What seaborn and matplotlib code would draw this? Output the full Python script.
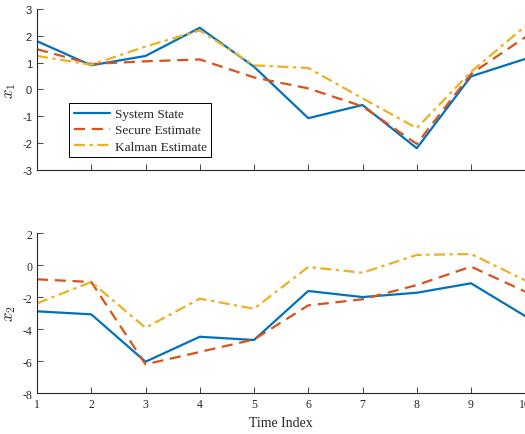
import numpy as np
import pandas as pd
import matplotlib
matplotlib.use('Agg')
import matplotlib.pyplot as plt
import seaborn as sns

sns.set_style('ticks')
plt.rcParams['font.family'] = ['Liberation Sans', 'DejaVu Sans']
plt.rcParams['mathtext.fontset'] = 'cm'
plt.rcParams['axes.unicode_minus'] = False

# data
t = [1, 2, 3, 4, 5, 6, 7, 8, 9, 10]
x1_state = [1.8, 0.9, 1.25, 2.3, 0.85, -1.07, -0.58, -2.19, 0.49, 1.14]
x1_secure = [1.5, 0.95, 1.05, 1.12, 0.45, 0.04, -0.63, -2.03, 0.58, 1.95]
x1_kalman = [1.25, 0.92, 1.6, 2.2, 0.9, 0.8, -0.33, -1.44, 0.66, 2.36]
x2_state = [-2.89, -3.08, -6.04, -4.48, -4.68, -1.62, -2.0, -1.73, -1.14, -3.19]
x2_secure = [-0.89, -1.06, -6.2, -5.43, -4.65, -2.52, -2.14, -1.25, -0.1, -1.66]
x2_kalman = [-2.39, -1.06, -3.92, -2.1, -2.73, -0.12, -0.48, 0.63, 0.69, -0.96]

labels = ['System State', 'Secure Estimate', 'Kalman Estimate']
colors = ['#0072BD', '#D95319', '#EDB120']
styles = ['-', (0, (5, 3)), (0, (5, 2, 1.5, 2))]

fig = plt.figure(figsize=(5.25, 4.35), dpi=100)
ax1 = fig.add_axes([0.0705, 0.607, 0.93, 0.37])
ax2 = fig.add_axes([0.0705, 0.094, 0.93, 0.368])

serif = 'Liberation Serif'
gray = '#262626'

for ax, series in [(ax1, [x1_state, x1_secure, x1_kalman]),
                   (ax2, [x2_state, x2_secure, x2_kalman])]:
    for y, lab, c, ls in zip(series, labels, colors, styles):
        sns.lineplot(x=t, y=y, ax=ax, color=c, linestyle=ls, linewidth=1.6, label=lab)
    ax.set_xlim(1, 10)
    ax.set_xticks(t)
    sns.despine(ax=ax)
    for s in ['left', 'bottom']:
        ax.spines[s].set_color(gray)
        ax.spines[s].set_linewidth(0.8)
    ax.tick_params(direction='in', length=4, width=0.6, colors=gray, labelsize=8)
    ax.get_legend().remove()

ax1.set_ylim(-3, 3)
ax1.set_yticks([-3, -2, -1, 0, 1, 2, 3])
ax1.set_xticklabels([])
ax1.set_ylabel('$x_1$', fontsize=12, labelpad=3)

ax2.set_ylim(-8, 2)
ax2.set_yticks([-8, -6, -4, -2, 0, 2])
ax2.tick_params(labelsize=8.5)
for lb in ax2.get_xticklabels() + ax2.get_yticklabels():
    lb.set_fontfamily(serif)
ax2.set_ylabel('$x_2$', fontsize=12, labelpad=3)
ax2.set_xlabel('Time Index', fontsize=10, fontfamily=serif, labelpad=4)

h, l = ax1.get_legend_handles_labels()
leg = fig.legend(h, l, loc='upper left', bbox_to_anchor=(0.132, 0.76),
                 prop={'family': serif, 'size': 9.5}, frameon=True,
                 fancybox=False, edgecolor='black', framealpha=1,
                 handlelength=2.7, borderpad=0.35, labelspacing=0.3,
                 handletextpad=0.4, borderaxespad=0)
leg.get_frame().set_linewidth(0.7)

plt.savefig('out.png', dpi=100)
